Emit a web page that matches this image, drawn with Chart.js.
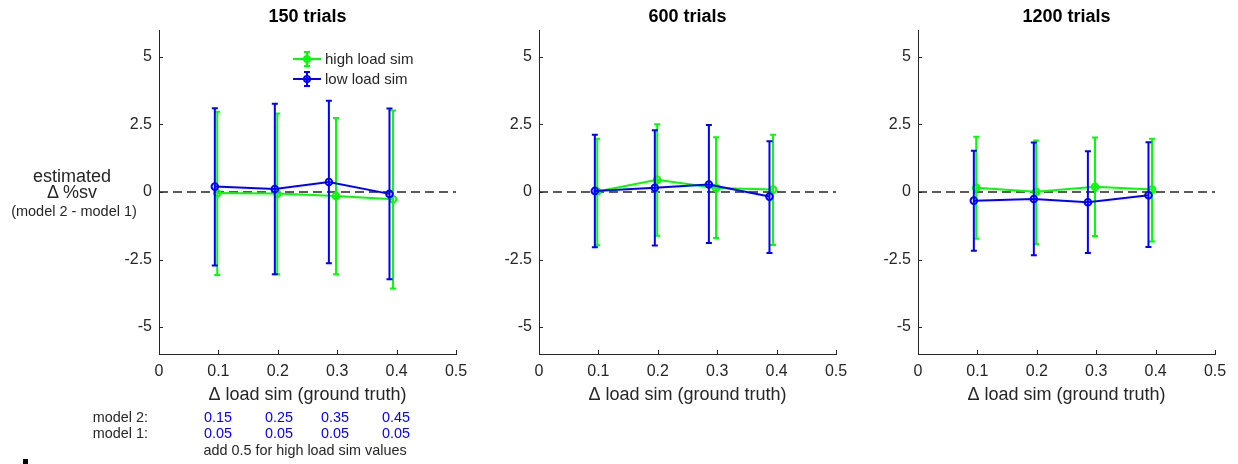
<!DOCTYPE html>
<html>
<head>
<meta charset="utf-8">
<script src="https://cdn.jsdelivr.net/npm/chart.js@4.4.1/dist/chart.umd.min.js"></script>
<style>
body { margin:0; background:#fff; width:1238px; height:464px; position:relative; overflow:hidden;
       font-family:"Liberation Sans", Arial, sans-serif; color:#262626; }
canvas { position:absolute; top:0; }
.t { position:absolute; transform:translate(-50%,-50%); white-space:nowrap; line-height:1; }
.r { position:absolute; transform:translate(-100%,-50%); white-space:nowrap; line-height:1; }
.blue { color:#0000ff; }
.mark { position:absolute; left:23px; top:459px; width:5px; height:5px; background:#000; }
</style>
</head>
<body>
<canvas id="c1" width="377" height="410" style="left:99px"></canvas>
<canvas id="c2" width="377" height="410" style="left:479px"></canvas>
<canvas id="c3" width="377" height="410" style="left:858px"></canvas>

<div class="t" style="left:72px;top:176px;font-size:18px">estimated</div>
<div class="t" style="left:72px;top:192px;font-size:18px">&Delta; %sv</div>
<div class="t" style="left:74px;top:211px;font-size:14.5px">(model 2 - model 1)</div>

<div class="r" style="left:148px;top:417px;font-size:14.4px">model 2:</div>
<div class="r" style="left:148px;top:433px;font-size:14.4px">model 1:</div>
<div id="m2"></div>
<div id="m1"></div>
<div class="t" style="left:305px;top:450px;font-size:14.4px">add 0.5 for high load sim values</div>
<div class="mark"></div>

<script>
const xTicks = [0, 0.1, 0.2, 0.3, 0.4, 0.5];
const yTicks = [-5, -2.5, 0, 2.5, 5];
const titles = ['150 trials', '600 trials', '1200 trials'];

// x positions (slightly jittered in the original)
const xHigh = [0.098, 0.199, 0.298, 0.394];
const xLow = [0.094, 0.195, 0.286, 0.388];

// 150 trials
const highY1 = [-0.04, -0.06, -0.15, -0.27];
const highHi1 = [2.97, 2.91, 2.74, 3.02];
const highLo1 = [-3.07, -3.05, -3.05, -3.57];
const lowY1 = [0.20, 0.11, 0.37, -0.07];
const lowHi1 = [3.10, 3.27, 3.38, 3.09];
const lowLo1 = [-2.72, -3.05, -2.64, -3.23];

// 600 trials
const highY2 = [0.02, 0.45, 0.15, 0.09];
const highHi2 = [1.97, 2.51, 2.03, 2.12];
const highLo2 = [-1.97, -1.62, -1.70, -1.96];
const lowY2 = [0.04, 0.16, 0.28, -0.17];
const lowHi2 = [2.12, 2.29, 2.48, 1.88];
const lowLo2 = [-2.05, -1.98, -1.89, -2.26];

// 1200 trials
const highY3 = [0.16, 0.01, 0.19, 0.09];
const highHi3 = [2.05, 1.91, 2.02, 1.97];
const highLo3 = [-1.73, -1.93, -1.63, -1.83];
const lowY3 = [-0.32, -0.26, -0.38, -0.12];
const lowHi3 = [1.53, 1.83, 1.51, 1.84];
const lowLo3 = [-2.18, -2.34, -2.26, -2.04];

// values printed under the first panel
const model2Vals = ['0.15', '0.25', '0.35', '0.45'];
const model1Vals = ['0.05', '0.05', '0.05', '0.05'];
const valueX = [218, 279, 335, 396];

const green = '#00ff00';
const blue = '#0000ff';
const axisColor = '#262626';
const font = '"Liberation Sans", Arial, sans-serif';

model2Vals.forEach((v, i) => {
  document.getElementById('m2').insertAdjacentHTML('beforeend',
    `<div class="t blue" style="left:${valueX[i]}px;top:417px;font-size:14.4px">${v}</div>`);
  document.getElementById('m1').insertAdjacentHTML('beforeend',
    `<div class="t blue" style="left:${valueX[i]}px;top:433px;font-size:14.4px">${model1Vals[i]}</div>`);
});

const errorBars = {
  id: 'errorBars',
  afterDatasetDraw(chart, args) {
    const ds = chart.data.datasets[args.index];
    if (!ds.errHi) return;
    const { ctx, scales: { x, y } } = chart;
    ctx.save();
    ctx.strokeStyle = ds.borderColor;
    ctx.lineWidth = 2;
    ds.data.forEach((p, i) => {
      const px = x.getPixelForValue(p.x);
      const top = y.getPixelForValue(ds.errHi[i]);
      const bot = y.getPixelForValue(ds.errLo[i]);
      ctx.beginPath();
      ctx.moveTo(px, top); ctx.lineTo(px, bot);
      ctx.moveTo(px - 3, top); ctx.lineTo(px + 3, top);
      ctx.moveTo(px - 3, bot); ctx.lineTo(px + 3, bot);
      ctx.stroke();
    });
    ctx.restore();
  }
};

const innerTicks = {
  id: 'innerTicks',
  afterDraw(chart) {
    const { ctx, chartArea: a, scales: { x, y } } = chart;
    ctx.save();
    ctx.strokeStyle = axisColor;
    ctx.lineWidth = 1;
    ctx.beginPath();
    x.ticks.forEach(t => {
      const px = Math.round(x.getPixelForValue(t.value)) + 0.5;
      ctx.moveTo(px, a.bottom); ctx.lineTo(px, a.bottom - 4);
    });
    y.ticks.forEach(t => {
      const py = Math.round(y.getPixelForValue(t.value)) + 0.5;
      ctx.moveTo(a.left, py); ctx.lineTo(a.left + 4, py);
    });
    ctx.stroke();
    ctx.restore();
  }
};

const errLegend = {
  id: 'errLegend',
  afterDraw(chart) {
    const { ctx, chartArea: a } = chart;
    const items = chart.data.datasets.filter(d => d.errHi);
    ctx.save();
    items.forEach((d, i) => {
      const y0 = a.top + 29 + i * 20;
      const x0 = a.left + 134;
      const cx = x0 + 14;
      ctx.strokeStyle = d.borderColor;
      ctx.lineWidth = 2;
      ctx.beginPath();
      ctx.moveTo(x0, y0); ctx.lineTo(x0 + 28, y0);
      ctx.moveTo(cx, y0 - 7); ctx.lineTo(cx, y0 + 7);
      ctx.moveTo(cx - 3, y0 - 7); ctx.lineTo(cx + 3, y0 - 7);
      ctx.moveTo(cx - 3, y0 + 7); ctx.lineTo(cx + 3, y0 + 7);
      ctx.stroke();
      ctx.beginPath();
      ctx.arc(cx, y0, 3, 0, Math.PI * 2);
      ctx.stroke();
      ctx.fillStyle = axisColor;
      ctx.font = '15px ' + font;
      ctx.textBaseline = 'middle';
      ctx.fillText(d.label, x0 + 32, y0 + 1);
    });
    ctx.restore();
  }
};

function pts(xs, ys) {
  return xs.map((x, i) => ({ x: x, y: ys[i] }));
}

function makeChart(id, title, hy, hhi, hlo, ly, lhi, llo, withLegend) {
  const plugins = [errorBars, innerTicks];
  if (withLegend) plugins.push(errLegend);
  return new Chart(document.getElementById(id), {
    type: 'scatter',
    data: {
      datasets: [
        {
          data: [{ x: 0, y: 0 }, { x: 0.5, y: 0 }],
          showLine: true,
          borderColor: '#262626',
          borderWidth: 1.3,
          borderDash: [9, 5],
          pointRadius: 0,
          order: 3
        },
        {
          label: 'high load sim',
          data: pts(xHigh, hy),
          errHi: hhi,
          errLo: hlo,
          showLine: true,
          borderColor: green,
          borderWidth: 2,
          pointRadius: 3.3,
          pointBorderWidth: 2,
          pointBackgroundColor: 'rgba(0,0,0,0)',
          pointBorderColor: green,
          order: 2
        },
        {
          label: 'low load sim',
          data: pts(xLow, ly),
          errHi: lhi,
          errLo: llo,
          showLine: true,
          borderColor: blue,
          borderWidth: 2,
          pointRadius: 3.3,
          pointBorderWidth: 2,
          pointBackgroundColor: 'rgba(0,0,0,0)',
          pointBorderColor: blue,
          order: 1
        }
      ]
    },
    options: {
      responsive: false,
      animation: false,
      layout: { padding: { left: 0, right: 20, top: 0, bottom: 0 } },
      plugins: {
        legend: { display: false },
        tooltip: { enabled: false },
        title: {
          display: true,
          fullSize: false,
          text: title,
          color: '#000',
          font: { family: font, size: 18, weight: 'bold' },
          padding: { top: 6, bottom: 2.4 }
        }
      },
      scales: {
        x: {
          type: 'linear',
          min: 0,
          max: 0.5,
          afterBuildTicks: s => { s.ticks = xTicks.map(v => ({ value: v })); },
          afterFit: s => { s.height = 56; },
          grid: { display: false, drawTicks: false },
          border: { color: axisColor, width: 1 },
          ticks: {
            color: axisColor,
            padding: 8,
            font: { family: font, size: 16 },
            callback: v => String(v)
          },
          title: {
            display: true,
            text: '\u0394 load sim (ground truth)',
            color: axisColor,
            font: { family: font, size: 18 },
            padding: { top: 4, bottom: 4 }
          }
        },
        y: {
          min: -6,
          max: 6,
          afterBuildTicks: s => { s.ticks = yTicks.map(v => ({ value: v })); },
          afterFit: s => { s.width = 60; },
          grid: { display: false, drawTicks: false },
          border: { color: axisColor, width: 1 },
          ticks: {
            color: axisColor,
            padding: 7,
            font: { family: font, size: 16 },
            callback: v => String(v)
          }
        }
      }
    },
    plugins: plugins
  });
}

makeChart('c1', titles[0], highY1, highHi1, highLo1, lowY1, lowHi1, lowLo1, true);
makeChart('c2', titles[1], highY2, highHi2, highLo2, lowY2, lowHi2, lowLo2, false);
makeChart('c3', titles[2], highY3, highHi3, highLo3, lowY3, lowHi3, lowLo3, false);
</script>
</body>
</html>
